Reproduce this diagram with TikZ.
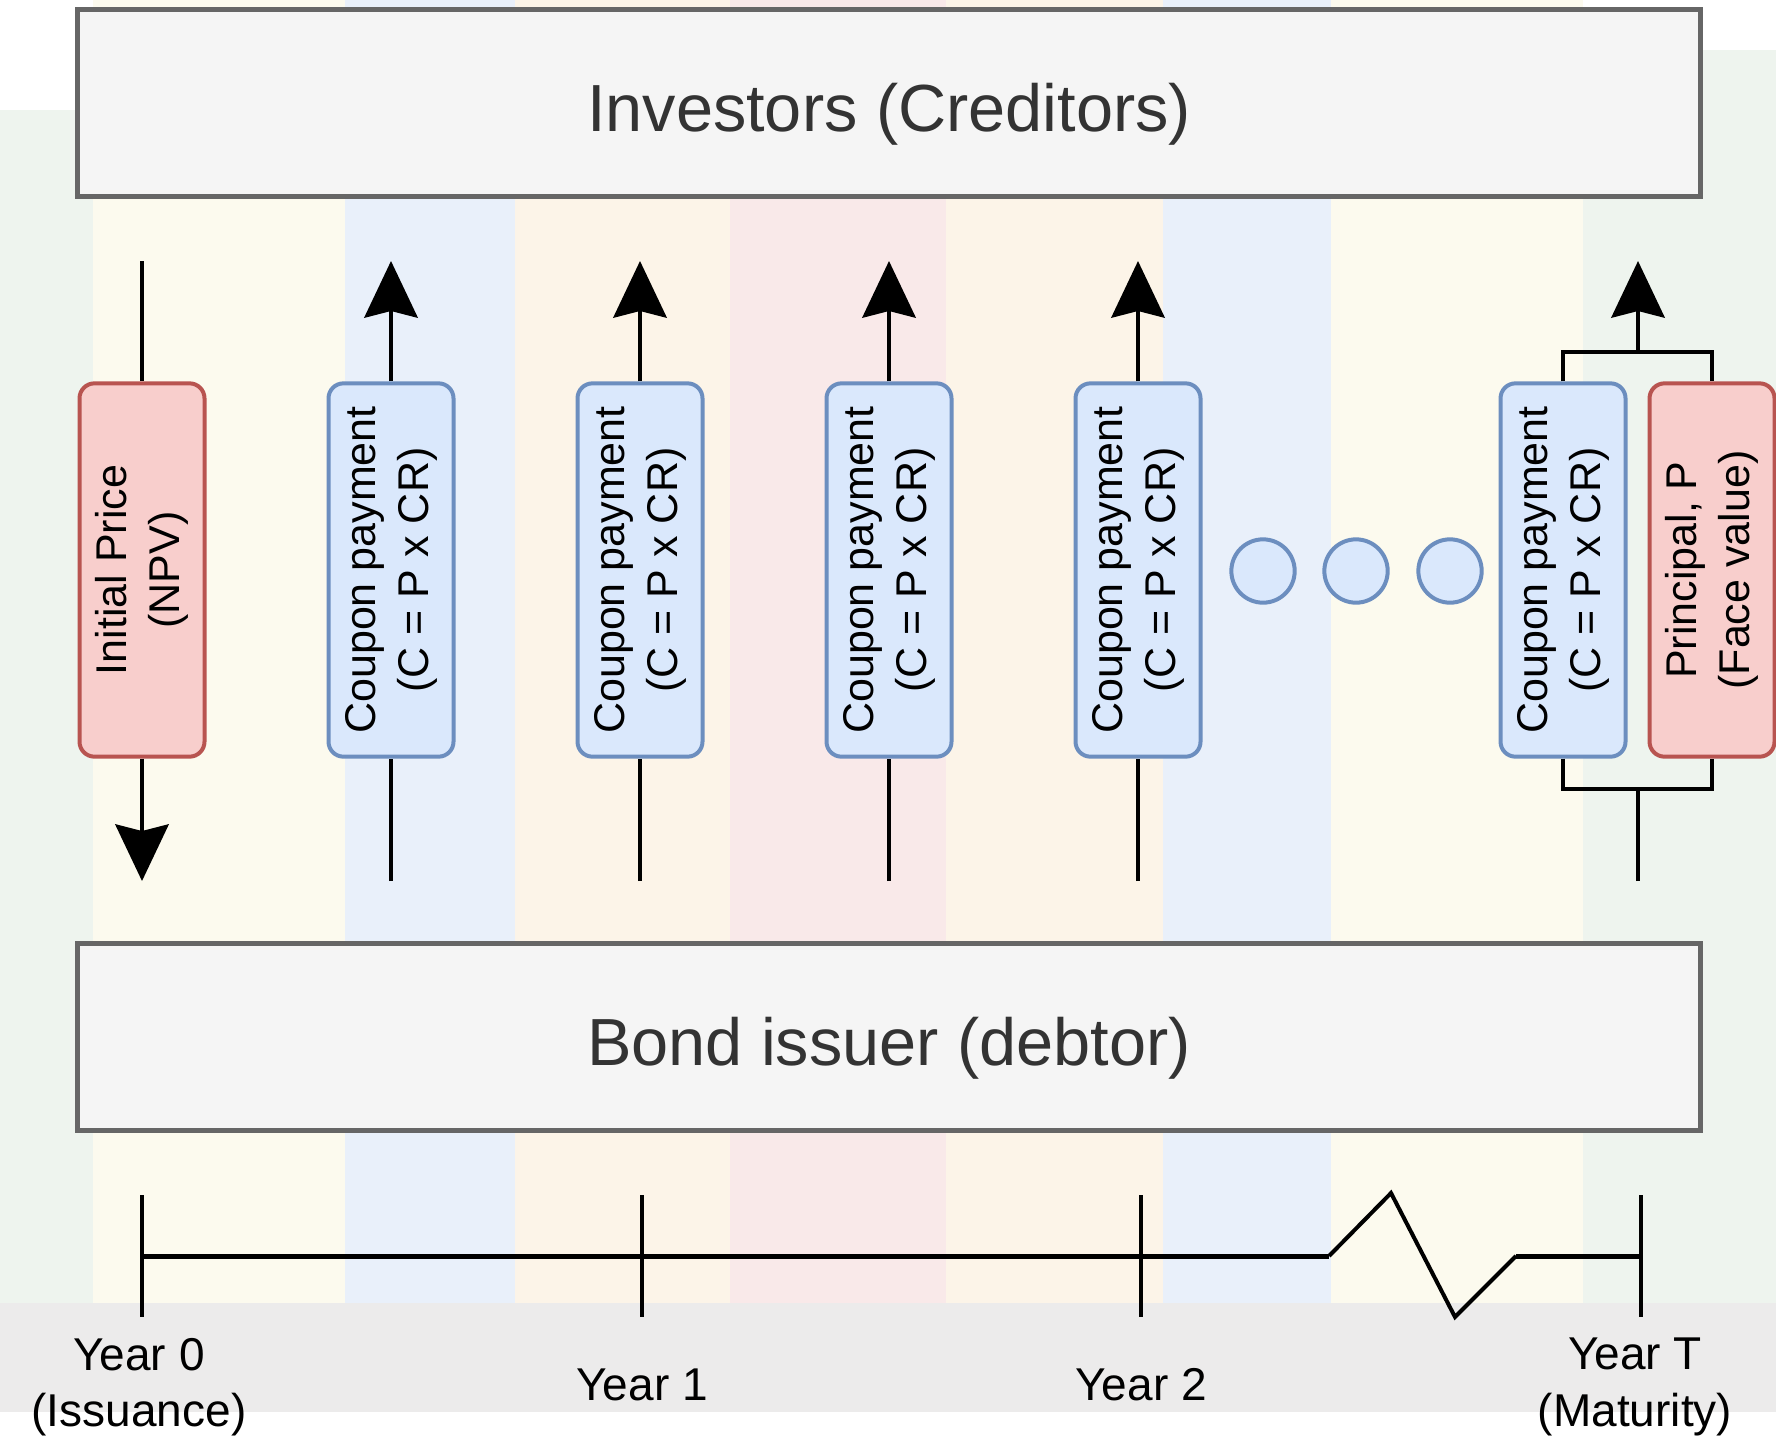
\documentclass[tikz,border=0pt]{standalone}
\usepackage{fontspec}
\setmainfont{Liberation Sans}
\usetikzlibrary{arrows.meta}

\definecolor{boxfill}{HTML}{F5F5F5}
\definecolor{boxline}{HTML}{666666}
\definecolor{cpnfill}{HTML}{DAE8FC}
\definecolor{cpnline}{HTML}{6C8EBF}
\definecolor{prnfill}{HTML}{F8CECC}
\definecolor{prnline}{HTML}{B85450}
\definecolor{bggreen}{HTML}{EEF4EE}
\definecolor{bgyellow}{HTML}{FCFAEE}
\definecolor{bgblue}{HTML}{E9F0FA}
\definecolor{bgorange}{HTML}{FCF4E8}
\definecolor{bgpink}{HTML}{F9E9E9}
\definecolor{bggrey}{HTML}{ECEBEB}

\begin{document}
\begin{tikzpicture}[x=0.3pt,y=-0.3pt,>={Stealth[length=17pt,width=16pt,inset=2pt]},
  party/.style={draw=boxline,fill=boxfill,line width=1.5pt,minimum width=487pt,minimum height=56pt,text height=21pt,text depth=4.2pt,font=\fontsize{20}{24}\selectfont,text=black!80},
  pay/.style={rotate=90,rounded corners=4.5pt,line width=1.2pt,minimum width=112pt,minimum height=37.5pt,inner sep=0pt,align=center,font=\fontsize{12.9}{15.9}\selectfont},
  coupon/.style={pay,draw=cpnline,fill=cpnfill},
  principal/.style={pay,draw=prnline,fill=prnfill},
  dot/.style={circle,draw=cpnline,fill=cpnfill,line width=1.2pt,minimum size=19pt,inner sep=0pt},
  flow/.style={line width=1.2pt},
  year/.style={align=center,font=\fontsize{13.8}{17}\selectfont}]
  \useasboundingbox (0,0) rectangle (1776,1441);
  % faded background
  \fill[bggreen] (0,110) rectangle (93,1303);
  \fill[bgyellow] (93,0) rectangle (345,1303);
  \fill[bgblue] (345,0) rectangle (515,1303);
  \fill[bgorange] (515,0) rectangle (730,1303);
  \fill[bgpink] (730,0) rectangle (946,1303);
  \fill[bgorange] (946,0) rectangle (1163,1303);
  \fill[bgblue] (1163,0) rectangle (1331,1303);
  \fill[bgyellow] (1331,0) rectangle (1583,1303);
  \fill[bggreen] (1583,50) rectangle (1776,1303);
  \fill[bggrey] (0,1303) rectangle (1776,1412);

  \node[party] (inv) at (889,103) {Investors (Creditors)};
  \node[party] (iss) at (889,1037) {Bond issuer (debtor)};

  \node[principal] (ip) at (142,570) {Initial Price\\(NPV)};
  \node[coupon] (c1) at (391,570) {Coupon payment\\(C = P x CR)};
  \node[coupon] (c2) at (640,570) {Coupon payment\\(C = P x CR)};
  \node[coupon] (c3) at (889,570) {Coupon payment\\(C = P x CR)};
  \node[coupon] (c4) at (1138,570) {Coupon payment\\(C = P x CR)};
  \node[dot] (d1) at (1263,571) {};
  \node[dot] (d2) at (1356,571) {};
  \node[dot] (d3) at (1450,571) {};
  \node[coupon] (cT) at (1563,570) {Coupon payment\\(C = P x CR)};
  \node[principal] (pr) at (1712,570) {Principal, P\\(Face value)};

  % flows between the two parties
  \coordinate (ipt) at (142,261);  \coordinate (ipb) at (142,881);
  \coordinate (c1t) at (391,261);  \coordinate (c1b) at (391,881);
  \coordinate (c2t) at (640,261);  \coordinate (c2b) at (640,881);
  \coordinate (c3t) at (889,261);  \coordinate (c3b) at (889,881);
  \coordinate (c4t) at (1138,261); \coordinate (c4b) at (1138,881);
  \coordinate (jt) at (1638,352);  \coordinate (jb) at (1638,789);
  \coordinate (cTt) at (1638,261); \coordinate (cTb) at (1638,881);
  \draw[flow] (ipt) -- (ip.east);
  \draw[flow,->] (ip.west) -- (ipb);
  \draw[flow,->] (c1.east) -- (c1t);
  \draw[flow] (c1b) -- (c1.west);
  \draw[flow,->] (c2.east) -- (c2t);
  \draw[flow] (c2b) -- (c2.west);
  \draw[flow,->] (c3.east) -- (c3t);
  \draw[flow] (c3b) -- (c3.west);
  \draw[flow,->] (c4.east) -- (c4t);
  \draw[flow] (c4b) -- (c4.west);
  \draw[flow] (cT.east) |- (jt) -| (pr.east);
  \draw[flow] (cT.west) |- (jb) -| (pr.west);
  \draw[flow,->] (jt) -- (cTt);
  \draw[flow] (cTb) -- (jb);

  % time line
  \coordinate (t0) at (142,1256);
  \coordinate (t1) at (642,1256);
  \coordinate (t2) at (1141,1256);
  \coordinate (tT) at (1641,1256);
  \coordinate (z1) at (1329,1256);
  \coordinate (z2) at (1391,1193);
  \coordinate (z3) at (1455,1317);
  \coordinate (z4) at (1516,1256);
  \draw[line width=1.5pt] (t0) -- (t2) -- (z1);
  \draw[flow] (z1) -- (z2) -- (z3) -- (z4);
  \draw[line width=1.5pt] (z4) -- (tT);
  \draw[flow] (142,1195) -- (142,1317);
  \draw[flow] (642,1195) -- (642,1317);
  \draw[flow] (1141,1195) -- (1141,1317);
  \draw[flow] (1641,1195) -- (1641,1317);
  \node[year] (y0) at (139,1387) {Year 0\\(Issuance)};
  \node[year] (y1) at (642,1385) {Year 1};
  \node[year] (y2) at (1141,1385) {Year 2};
  \node[year] (yT) at (1635,1387) {Year T\\(Maturity)};
\end{tikzpicture}
\end{document}
